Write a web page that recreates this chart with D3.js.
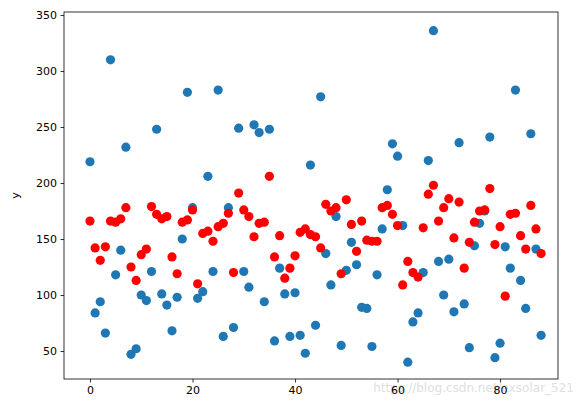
<!DOCTYPE html><html><head><meta charset="utf-8"><script src="https://cdn.jsdelivr.net/npm/d3@7"></script>
<style>body{margin:0;background:#fff}</style></head><body><svg id="c" width="580" height="407"></svg>
<script>
const blueY=[219,84,94,66,310,118,140,232,47,52,100,95,121,248,101,91,68,98,150,281,178,97,103,206,121,283,63,178,71,249,121,107,252,245,94,248,59,124,101,63,102,64,48,216,73,277,137,109,170,55,122,147,127,89,88,54,118,159,194,235,224,162,40,76,84,120,220,336,130,100,132,85,236,92,53,144,164,175,241,44,57,143,124,283,113,88,244,141,64];
const redY=[166,142,131,143,166,165,168,178,125,113,136,141,179,172,168,170,134,119,165,167,176,110,155,157,148,161,164,173,120,191,176,170,152,164,165,206,134,153,115,124,135,156,159,154,152,142,181,175,178,119,185,163,139,166,149,148,148,178,180,172,162,109,130,120,116,160,190,198,166,178,186,151,183,124,147,165,175,176,195,145,161,99,172,173,153,141,180,159,137];
const xTicks=[0,20,40,60,80], yTicks=[50,100,150,200,250,300,350];
const svg=d3.select("#c");
const L=64,R=558,T=12,B=379;
const x=d3.scaleLinear().domain([-5.07,91.3]).range([L,R]);
const y=d3.scaleLinear().domain([25,352.7]).range([B,T]);
const font="DejaVu Sans";
svg.append("g").selectAll("circle").data(blueY).join("circle").attr("cx",(d,i)=>x(i)).attr("cy",d=>y(d)).attr("r",4.6).attr("fill","#1f77b4");
svg.append("g").selectAll("circle").data(redY).join("circle").attr("cx",(d,i)=>x(i)).attr("cy",d=>y(d)).attr("r",4.6).attr("fill","#ff0000");
svg.append("text").attr("x",574).attr("y",392).attr("text-anchor","end").attr("font-family",font).attr("font-size",12).attr("fill","#e0e0e0").text("https://blog.csdn.net/exsolar_521");
const gx=svg.append("g").attr("transform",`translate(0,${B})`).call(d3.axisBottom(x).tickValues(xTicks).tickSize(3.5).tickPadding(3.5));
const gy=svg.append("g").attr("transform",`translate(${L},0)`).call(d3.axisLeft(y).tickValues(yTicks).tickSize(3.5).tickPadding(3.5));
[gx,gy].forEach(g=>{g.select(".domain").remove();g.selectAll("text").attr("font-family",font).attr("font-size",11).attr("fill","#000");g.selectAll("line").attr("stroke","#000").attr("stroke-width",0.8);});
svg.append("rect").attr("x",L).attr("y",T).attr("width",R-L).attr("height",B-T).attr("fill","none").attr("stroke","#000").attr("stroke-width",0.8);
svg.append("text").attr("transform",`translate(19,${(T+B)/2}) rotate(-90)`).attr("text-anchor","middle").attr("font-family",font).attr("font-size",11).text("y");
</script></body></html>
